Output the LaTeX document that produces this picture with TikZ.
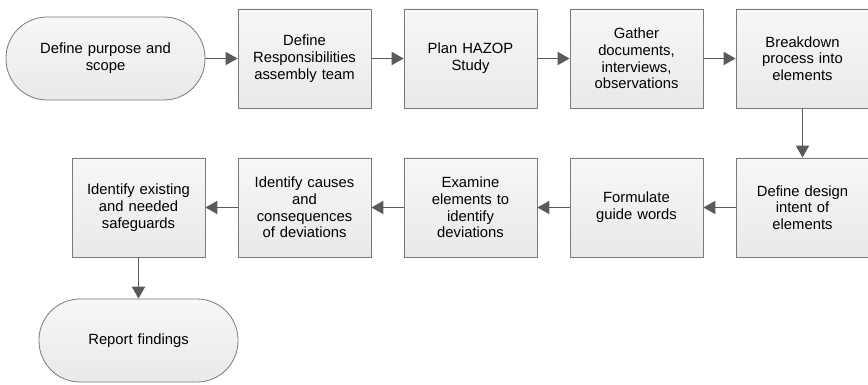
\documentclass[tikz,border=0pt]{standalone}
\usepackage{fontspec}
\setmainfont{Liberation Sans}
\usetikzlibrary{arrows.meta,shadows}
\definecolor{boxline}{HTML}{7A7A7A}
\definecolor{arrowcol}{HTML}{5A5A5A}
\definecolor{boxtop}{HTML}{F7F7F7}
\definecolor{boxbot}{HTML}{E9E9E9}
\tikzset{
  stepbox/.style={draw=boxline, line width=0.8pt, top color=boxtop, bottom color=boxbot,
    minimum width=133pt, minimum height=99pt, text width=122pt, align=center,
    inner sep=0pt, drop shadow={shadow xshift=1.2pt, shadow yshift=-1.2pt, opacity=0.25},
    font=\fontsize{14.8}{16.7}\selectfont},
  termbox/.style={draw=boxline, line width=0.8pt, top color=boxtop, bottom color=boxbot,
    rounded corners=41pt, minimum width=199pt, minimum height=83pt, text width=170pt,
    align=center, inner sep=0pt,
    font=\fontsize{14.8}{16.7}\selectfont},
  flow/.style={draw=arrowcol, line width=1.9pt, -{Triangle[length=12pt,width=13pt]}}
}
\begin{document}
\begin{tikzpicture}[x=1pt,y=-1pt]
  \useasboundingbox[fill=white] (0,0) rectangle (868,385);
  % top row
  \node[termbox] (scope) at (105.5,58.5) {Define purpose and\\scope};
  \node[stepbox] (resp) at (304.5,58.5) {Define\\Responsibilities\\assembly team};
  \node[stepbox] (plan) at (470.5,58.5) {Plan HAZOP\\Study};
  \node[stepbox] (gather) at (636.5,58.5) {Gather\\documents,\\interviews,\\observations};
  \node[stepbox] (brk) at (802.5,58.5) {Breakdown\\process into\\elements};
  % bottom row
  \node[stepbox] (intent) at (802.5,207.5) {Define design\\intent of\\elements};
  \node[stepbox] (guide) at (636.5,207.5) {Formulate\\guide words};
  \node[stepbox] (exam) at (470.5,207.5) {Examine\\elements to\\identify\\deviations};
  \node[stepbox] (cause) at (304.5,207.5) {Identify causes\\and\\consequences\\of deviations};
  \node[stepbox] (safe) at (138.5,207.5) {Identify existing\\and needed\\safeguards};
  \node[termbox] (report) at (138.5,340.5) {Report findings};
  % connectors
  \draw[flow] (scope) -- (resp);
  \draw[flow] (resp) -- (plan);
  \draw[flow] (plan) -- (gather);
  \draw[flow] (gather) -- (brk);
  \draw[flow] (brk) -- (intent);
  \draw[flow] (intent) -- (guide);
  \draw[flow] (guide) -- (exam);
  \draw[flow] (exam) -- (cause);
  \draw[flow] (cause) -- (safe);
  \draw[flow] (safe) -- (report);
\end{tikzpicture}
\end{document}
